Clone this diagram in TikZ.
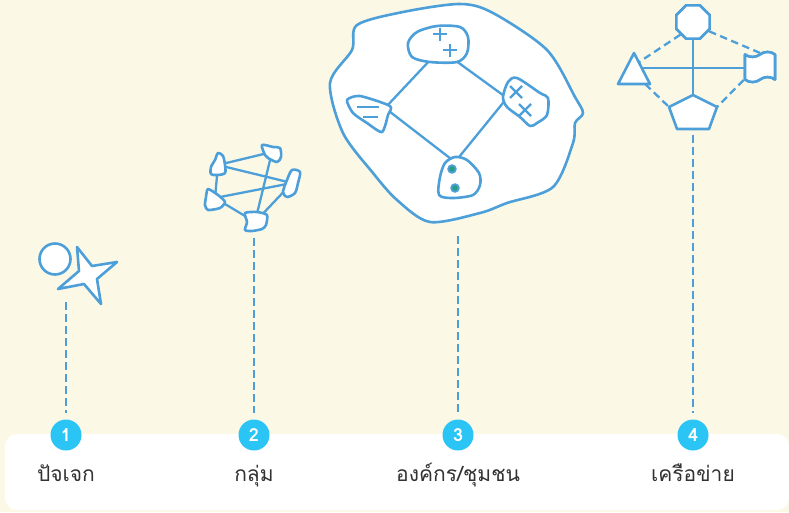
\documentclass[tikz,border=0pt]{standalone}
\usepackage{fontspec}
\newfontfamily\thaifont[Script=Thai]{Loma}
\usetikzlibrary{positioning, calc, shapes.geometric, shapes.symbols}

\definecolor{cream}{RGB}{251,248,230}
\definecolor{lineblue}{RGB}{76,159,216}
\definecolor{numcyan}{RGB}{42,197,245}
\definecolor{dotgreen}{RGB}{38,158,128}
\definecolor{textgray}{RGB}{50,50,50}

\begin{document}
\begin{tikzpicture}[
    x=1pt, y=-1pt,
    every node/.style={font=\thaifont},
    shapeline/.style={
        draw=lineblue,
        line width=2.6pt,
        fill=white,
        line join=round
    },
    linkline/.style={draw=lineblue, line width=2.3pt},
    dashlink/.style={draw=lineblue, line width=2.3pt, dash pattern=on 7.5pt off 4.5pt},
    numnode/.style={
        circle,
        fill=numcyan,
        text=white,
        minimum size=31pt,
        inner sep=0pt,
        font=\thaifont\bfseries\fontsize{18}{18}\selectfont
    },
    labelnode/.style={
        anchor=base,
        text=textgray,
        font=\thaifont\fontsize{21}{24}\selectfont
    }
]
\useasboundingbox (0,0) rectangle (789,512);
\fill[cream] (0,0) rectangle (789,512);
\fill[white, rounded corners=12pt] (5,434) rectangle (789,510);

% stems
\coordinate (s1) at (66,302);
\coordinate (s2) at (254,238);
\coordinate (s3) at (458,236);
\coordinate (s4) at (693,135);

\node[numnode] (n1) at (66,435) {1};
\node[numnode] (n2) at (254,435) {2};
\node[numnode] (n3) at (458,435) {3};
\node[numnode] (n4) at (693,435) {4};

\foreach \i in {1,...,4}
    \draw[dashlink, shorten >=6pt] (s\i) -- (n\i);

\node[labelnode] (l1) at (66,481) {ปัจเจก};
\node[labelnode] (l2) at (254,481) {กลุ่ม};
\node[labelnode] (l3) at (458,481) {องค์กร/ชุมชน};
\node[labelnode] (l4) at (693,481) {เครือข่าย};

% 1: individual
\node[circle, shapeline, minimum size=31pt, inner sep=0pt] (solo) at (55,259) {};
\coordinate (star) at (88,275);
\draw[shapeline] (77,247) -- (92,266) -- (117,262) -- (97,279) -- (101,304)
    -- (84,284) -- (58,289) -- (79,271) -- cycle;

% 2: group
\coordinate (g1) at (218,165);
\coordinate (g2) at (272,152);
\coordinate (g3) at (292,183);
\coordinate (g4) at (215,198);
\coordinate (g5) at (255,222);
\foreach \a/\b in {g1/g2, g1/g3, g1/g4, g2/g5, g4/g3, g4/g5, g3/g5}
    \draw[linkline] (\a) -- (\b);
\draw[shapeline, shift={(g1)}] plot[smooth cycle] coordinates
    {(0,-12) (5,-9) (7,0) (7,8) (0,10) (-7,9) (-7,2) (-3,-5)};
\draw[shapeline, shift={(g2)}] plot[smooth cycle] coordinates
    {(-10,-7) (1,-5) (8,-4) (9,5) (5,10) (-4,6) (-7,3)};
\draw[shapeline, shift={(g3)}] plot[smooth cycle] coordinates
    {(0,-13) (8,-11) (6,0) (3,10) (-5,14) (-9,9) (-5,-3)};
\draw[shapeline, shift={(g4)}] plot[smooth cycle, tension=0.4] coordinates
    {(-7,-9) (3,-3) (10,4) (5,10) (-7,12) (-10,7) (-9,-1)};
\draw[shapeline, shift={(g5)}] plot[smooth cycle, tension=0.4] coordinates
    {(-10,-9) (2,-10) (12,-7) (11,3) (7,7) (-3,9) (-10,8) (-8,0)};

% 3: organisation / community
\draw[shapeline] plot[smooth cycle] coordinates
    {(357,25) (403,12) (460,4) (493,13) (547,50) (575,97) (583,113) (575,123)
     (573,143) (553,187) (507,203) (480,213) (430,222) (397,200) (373,173)
     (343,133) (330,83) (352,50)};
\coordinate (t1) at (432,58);
\coordinate (t2) at (452,58);
\coordinate (lf) at (385,108);
\coordinate (rt) at (507,98);
\coordinate (bt) at (455,162);
\draw[linkline] (t1) -- (lf) (t2) -- (rt) (lf) -- (bt) (rt) -- (bt);
\draw[shapeline] plot[smooth cycle] coordinates
    {(408,43) (417,32) (437,26) (460,27) (468,37) (467,53) (457,62) (430,62) (412,57)};
\draw[shapeline] plot[smooth cycle, tension=0.4] coordinates
    {(347,100) (360,96) (390,106) (388,115) (382,132) (367,123) (353,113)};
\draw[shapeline] plot[smooth cycle, tension=0.5] coordinates
    {(503,97) (508,82) (517,78) (540,93) (548,98) (547,115) (537,123) (530,126) (520,117) (507,107)};
\draw[shapeline] plot[smooth cycle] coordinates
    {(455,157) (467,160) (479,173) (480,185) (473,195) (453,198) (439,195) (440,177) (445,163)};
\foreach \p in {(440,34),(450,50)}
    \draw[linkline] \p ++(-7,0) -- ++(14,0) \p ++(0,-6.5) -- ++(0,13);
\foreach \p in {(516,92),(525,110)}
    \draw[linkline] \p ++(-6,-6) -- ++(12,12) \p ++(-6,6) -- ++(12,-12);
\draw[linkline] (357,107) -- (379,107) (363,117) -- (378,117);
\draw[lineblue, fill=dotgreen, line width=1.8pt] (452,169) circle (3.8pt) (455,188) circle (3.8pt);

% 4: network
\node[regular polygon, regular polygon sides=8, shapeline, minimum size=36pt, inner sep=0pt] (oct) at (693,22) {};
\node[tape, shapeline, minimum width=30pt, minimum height=30pt, inner sep=0pt] (flag) at (760,67) {};
\coordinate (tri) at (634,68);
\coordinate (triT) at (634,53);
\coordinate (triR) at (650,84);
\coordinate (triL) at (618,84);
\coordinate (penta) at (693,112);
\coordinate (pT) at (693,95);
\coordinate (pR) at (717,107);
\coordinate (pL) at (669,107);
\draw[dashlink] (oct.225) -- ($(triT)!0.3!(triR)$);
\draw[dashlink] (oct.-30) -- (flag.north);
\draw[dashlink] ($(triL)!0.85!(triR)$) -- (pL);
\draw[dashlink] (flag.south west) -- (pR);
\draw[linkline] (oct) -- (pT);
\draw[linkline] (tri) -- (tri -| flag);
\draw[shapeline] (triT) -- (triR) -- (triL) -- cycle;
\draw[shapeline] (pT) -- (pR) -- (709,129) -- (677,129) -- (pL) -- cycle;
\node[regular polygon, regular polygon sides=8, shapeline, minimum size=36pt, inner sep=0pt] at (oct) {};
\node[tape, shapeline, minimum width=30pt, minimum height=30pt, inner sep=0pt] at (flag) {};

\end{tikzpicture}
\end{document}
